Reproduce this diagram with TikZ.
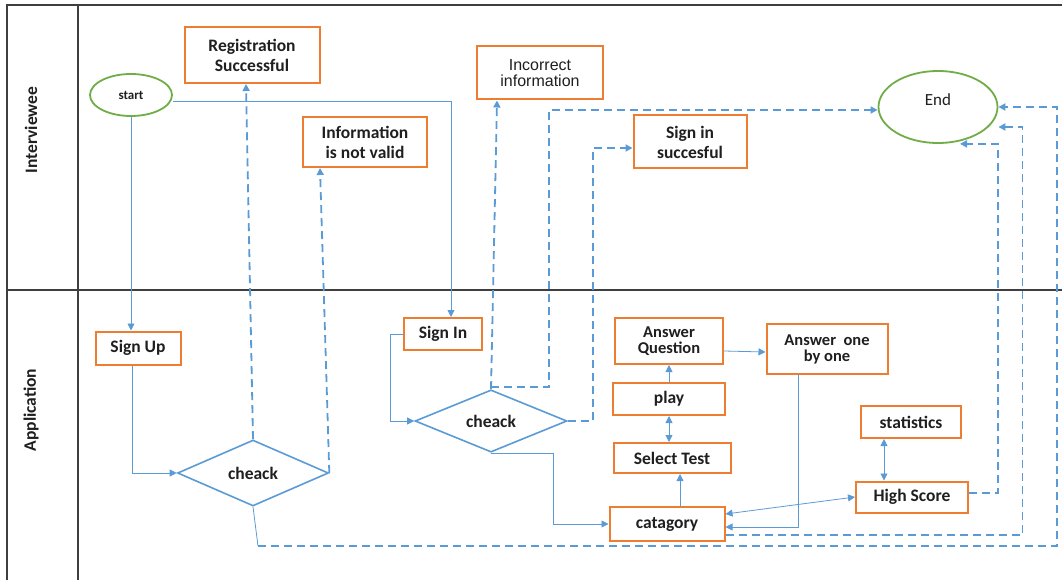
\documentclass[tikz,border=0pt]{standalone}
\usepackage{fontspec}
\setmainfont{Carlito}
\newfontfamily\fcArial{Liberation Sans}
\usepackage{xcolor}
\usepackage{tikz}
\usetikzlibrary{arrows.meta,shapes.geometric}
\definecolor{fcOrange}{HTML}{ED7D31}
\definecolor{fcGreen}{HTML}{70AD47}
\definecolor{fcBlue}{HTML}{5B9BD5}
\definecolor{fcInk}{HTML}{1F1F1F}
\definecolor{fcFrame}{HTML}{3F3F3F}
\tikzset{
  fc diagram/.style={x=1pt, y=-1pt, text=fcInk,
    font=\fontsize{17.5}{20}\selectfont\bfseries},
  fc box/.style={draw=fcOrange, fill=white, line width=2pt,
    align=center, inner sep=0pt},
  fc tight/.style={font=\fontsize{16.5}{16}\selectfont\bfseries},
  fc terminal/.style={ellipse, draw=fcGreen, fill=white, line width=1.8pt,
    inner sep=0pt},
  fc decision/.style={diamond, draw=fcBlue, fill=white, line width=1.6pt,
    inner sep=0pt},
  fc flow/.style={-{Triangle[length=7pt,width=7pt]}, draw=fcBlue, line width=0.8pt},
  fc both/.style={fc flow, {Triangle[length=7pt,width=7pt]}-{Triangle[length=7pt,width=7pt]}},
  fc return/.style={fc flow, line width=1.8pt, dash pattern=on 8pt off 5pt},
  fc lane/.style={draw=fcFrame, line width=1.2pt},
  fc lane label/.style={rotate=90, font=\fontsize{17.5}{17.5}\selectfont\bfseries}
}

\begin{document}
\begin{tikzpicture}[fc diagram]
\useasboundingbox (0,0) rectangle (1062,580);
\draw[fc lane] (7,580) -- (7,5) -- (1062,5);
\draw[fc lane] (78,5) -- (78,580);
\draw[fc lane] (7,290) -- (1062,290);
\node[fc lane label] (laneUser) at (31,130) {Interviewee};
\node[fc lane label] (laneApp) at (31,410) {Application};

\node[fc terminal,minimum width=82pt,minimum height=42pt,font=\fontsize{13}{13}\selectfont\bfseries] (start) at (131,95) {start};
\node[fc terminal,minimum width=119pt,minimum height=72pt,text depth=14pt,font=\fontsize{17}{17}\selectfont] (end) at (938,107) {End};
\node[fc box,minimum width=135pt,minimum height=56pt] (regOk) at (252,55) {Registration\\Successful};
\node[fc box,minimum width=124pt,minimum height=50pt] (infoBad) at (365,142) {Information\\is not valid};
\node[fc box,minimum width=126pt,minimum height=53pt,font=\fontsize{16}{16}\selectfont\fcArial] (incorrect) at (540,73) {Incorrect\\ information};
\node[fc box,minimum width=113pt,minimum height=53pt] (signOk) at (690,142) {Sign in\\succesful};

\node[fc box,minimum width=85pt,minimum height=33pt] (signUp) at (138,348) {Sign Up};
\node[fc decision,minimum width=151pt,minimum height=66pt] (check1) at (253,473) {cheack};
\node[fc box,minimum width=78pt,minimum height=32pt] (signIn) at (443,334) {Sign In};
\node[fc decision,minimum width=152pt,minimum height=61pt] (check2) at (491,421) {cheack};
\node[fc box,fc tight,minimum width=108pt,minimum height=46pt] (answerQ) at (669,341) {Answer\\Question};
\node[fc box,fc tight,minimum width=121pt,minimum height=50pt] (answerOne) at (827,349) {Answer~ one\\by one};
\node[fc box,minimum width=112pt,minimum height=32pt] (play) at (669,399) {play};
\node[fc box,minimum width=117pt,minimum height=30pt] (selectTest) at (672,458) {Select Test};
\node[fc box,minimum width=115pt,minimum height=34pt] (catagory) at (667,524) {catagory};
\node[fc box,minimum width=100pt,minimum height=32pt] (statistics) at (911,422) {statistics};
\node[fc box,minimum width=112pt,minimum height=31pt] (highScore) at (912,497) {High Score};
\coordinate (loopStart) at (258,546);

\draw[fc flow] (start.south) -- ([xshift=-7pt]signUp.north);
\draw[fc flow] ([yshift=-6pt]start.east) -| ([xshift=8pt]signIn.north);
\draw[fc flow] ([xshift=-6pt]signUp.south) |- (check1.west);
\draw[fc return] (check1.north) -- ([xshift=-6pt]regOk.south);
\draw[fc return] (check1.east) -- ([xshift=-45pt]infoBad.south);
\draw[fc flow,-] (check1.south) -- (loopStart);
\draw[fc return] (loopStart) -- ++(799,0) |- (end.east);
\draw[fc flow] (signIn.west) -- ++(-13,0) |- (check2.west);
\draw[fc return] (check2.north) -- ([xshift=-43pt]incorrect.south);
\draw[fc return] ([yshift=2pt]check2.north) -- ++(58,0) |- ([yshift=-3pt]end.west);
\draw[fc return] (check2.east) -- ++(25,0) |- ([yshift=-6pt]signOk.west);
\draw[fc flow] (check2.south) -- ++(62,0) |- (catagory.west);
\draw[fc flow] ([xshift=13pt]catagory.north) -- ([xshift=8pt]selectTest.south);
\draw[fc both] ([xshift=-3pt]selectTest.north) -- (play.south);
\draw[fc flow] (play.north) -- (answerQ.south);
\draw[fc flow] ([yshift=-10pt]answerQ.east) -- ([yshift=-3pt]answerOne.west);
\draw[fc flow] ([xshift=-29pt]answerOne.south) |- ([yshift=-3pt]catagory.east);
\draw[fc both] ([yshift=10pt]catagory.east) -- (highScore.west);
\draw[fc both] ([xshift=-27pt]statistics.south) -- ([xshift=-28pt]highScore.north);
\draw[fc return] ([yshift=-11pt]catagory.east) -- ++(297,0) |- ([yshift=-20pt]end.east);
\draw[fc return] ([yshift=4pt]highScore.east) -- ++(29,0) |- ([xshift=22pt]end.south);
\end{tikzpicture}
\end{document}
